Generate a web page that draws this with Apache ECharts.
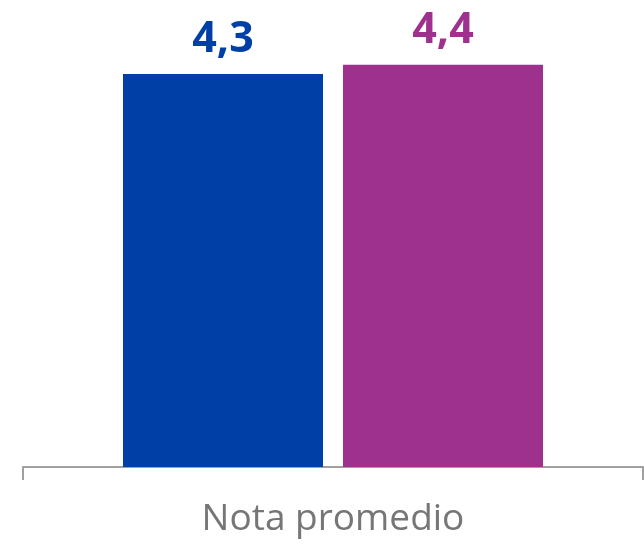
<!DOCTYPE html>
<html><head><meta charset="utf-8">
<script src="https://cdn.jsdelivr.net/npm/echarts@6/dist/echarts.min.js"></script>
<style>html,body{margin:0;padding:0;background:#fff}#c{width:644px;height:544px}</style>
</head><body><div id="c"></div>
<script>
const categories = ['Nota promedio'];
const seriesNames = ['Serie 1', 'Serie 2'];
const values1 = [4.3];
const values2 = [4.4];
const colors = ['#0040A6', '#9E318E'];

const chart = echarts.init(document.getElementById('c'), null, {renderer: 'canvas'});
function mk(name, data, color) {
  return {
    name: name, type: 'bar', data: data, barWidth: 200, barGap: '10%',
    itemStyle: {color: color},
    label: {show: true, position: 'top', distance: 13, color: color,
      fontFamily: 'Open Sans', fontWeight: 'bold', fontSize: 43,
      formatter: p => String(p.value).replace('.', ',')}
  };
}
chart.setOption({
  animation: false,
  grid: {left: 23, right: 1, top: 10, bottom: 77},
  xAxis: {type: 'category', data: categories,
    axisLine: {lineStyle: {color: '#A0A0A0', width: 2}},
    axisTick: {show: true, length: 13, lineStyle: {color: '#A0A0A0', width: 2}},
    axisLabel: {color: '#767676', fontSize: 37, fontFamily: 'Open Sans', margin: 34}},
  yAxis: {type: 'value', min: 0, max: 5, show: false, splitLine: {show: false}},
  series: [mk(seriesNames[0], values1, colors[0]), mk(seriesNames[1], values2, colors[1])]
});
</script></body></html>
